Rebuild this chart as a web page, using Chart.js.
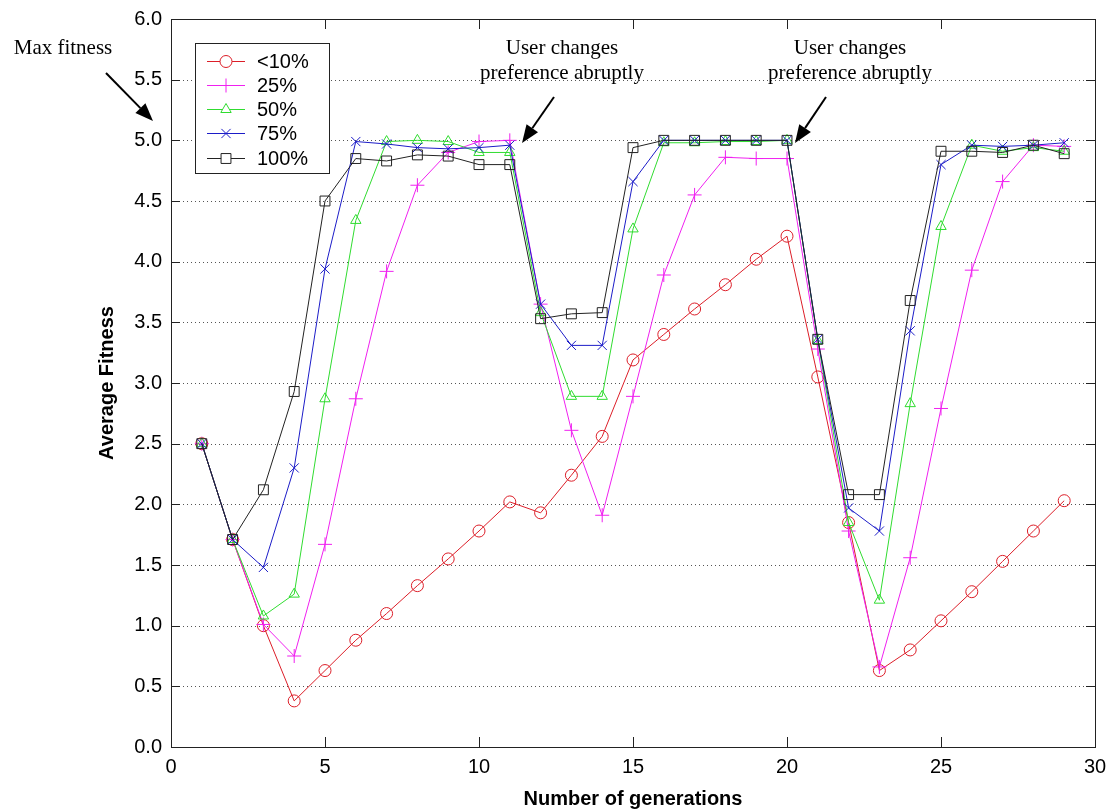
<!DOCTYPE html>
<html>
<head>
<meta charset="utf-8">
<script src="https://cdn.jsdelivr.net/npm/chart.js@4/dist/chart.umd.min.js"></script>
<style>
    body { margin: 0; background: #fff; }
    #wrap { width: 1109px; height: 811px; }
</style>
</head>
<body>
<div id="wrap"><canvas id="fitChart" width="1109" height="811"></canvas></div>
<script>
// generations 1..29
const generations = [1, 2, 3, 4, 5, 6, 7, 8, 9, 10, 11, 12, 13, 14, 15, 16, 17, 18, 19, 20, 21, 22, 23, 24, 25, 26, 27, 28, 29];

const fit10 = [2.50, 1.71, 1.00, 0.38, 0.63, 0.88, 1.10, 1.33, 1.55, 1.78, 2.02, 1.93, 2.24, 2.56, 3.19, 3.40, 3.61, 3.81, 4.02, 4.21, 3.05, 1.85, 0.63, 0.80, 1.04, 1.28, 1.53, 1.78, 2.03];
const fit25 = [2.50, 1.71, 1.01, 0.75, 1.67, 2.87, 3.92, 4.63, 4.90, 4.99, 5.00, 3.65, 2.61, 1.91, 2.89, 3.89, 4.55, 4.86, 4.85, 4.85, 3.28, 1.78, 0.66, 1.56, 2.79, 3.93, 4.66, 4.96, 4.95];
const fit50 = [2.50, 1.71, 1.08, 1.26, 2.87, 4.34, 4.99, 5.00, 4.99, 4.90, 4.90, 3.58, 2.89, 2.89, 4.27, 4.98, 4.98, 4.99, 4.99, 5.00, 3.35, 1.85, 1.21, 2.83, 4.29, 4.96, 4.91, 4.94, 4.91];
const fit75 = [2.50, 1.71, 1.48, 2.30, 3.94, 4.99, 4.97, 4.94, 4.93, 4.94, 4.96, 3.65, 3.31, 3.31, 4.66, 5.00, 5.00, 5.00, 5.00, 5.00, 3.36, 1.97, 1.78, 3.43, 4.80, 4.96, 4.95, 4.96, 4.98];
const fit100 = [2.50, 1.71, 2.12, 2.93, 4.50, 4.85, 4.83, 4.88, 4.87, 4.80, 4.80, 3.53, 3.57, 3.58, 4.94, 5.00, 5.00, 5.00, 5.00, 5.00, 3.36, 2.08, 2.08, 3.68, 4.91, 4.91, 4.90, 4.96, 4.89];

const seriesNames = ['<10%', '25%', '50%', '75%', '100%'];
const xTicks = [0, 5, 10, 15, 20, 25, 30];
const yTicks = [0.0, 0.5, 1.0, 1.5, 2.0, 2.5, 3.0, 3.5, 4.0, 4.5, 5.0, 5.5, 6.0];

const colors = ['#dc1e28', '#f020f0', '#30dc30', '#1c1cc8', '#222222'];
const markers = ['circle', 'cross', 'triangle', 'crossRot', 'rect'];
const markerSize = [6, 7, 6, 6.5, 7];

const toPoints = (arr) => arr.map((v, i) => ({x: generations[i], y: v}));

const allSeries = [fit10, fit25, fit50, fit75, fit100];
const datasets = allSeries.map((arr, i) => ({
    label: seriesNames[i],
    data: toPoints(arr),
    borderColor: colors[i],
    backgroundColor: 'rgba(0,0,0,0)',
    borderWidth: 1,
    pointStyle: markers[i],
    pointRadius: markerSize[i],
    pointBorderColor: colors[i],
    pointBackgroundColor: 'rgba(0,0,0,0)',
    pointBorderWidth: 1,
    tension: 0,
    order: 5 - i
}));

// box, dotted grid and inward ticks, matlab style
const frame = {
    id: 'frame',
    beforeDatasetsDraw(chart) {
        const {ctx, chartArea: a, scales: {x, y}} = chart;
        ctx.save();
        ctx.lineWidth = 1;
        ctx.strokeStyle = '#555';
        ctx.setLineDash([1, 3]);
        yTicks.forEach((t) => {
            if (t === 0 || t === 6) return;
            const py = Math.round(y.getPixelForValue(t)) + 0.5;
            ctx.beginPath();
            ctx.moveTo(a.left, py);
            ctx.lineTo(a.right, py);
            ctx.stroke();
        });
        ctx.setLineDash([]);
        ctx.strokeStyle = '#222';
        yTicks.forEach((t) => {
            const py = Math.round(y.getPixelForValue(t)) + 0.5;
            ctx.beginPath();
            ctx.moveTo(a.left, py); ctx.lineTo(a.left + 9, py);
            ctx.moveTo(a.right, py); ctx.lineTo(a.right - 9, py);
            ctx.stroke();
        });
        xTicks.forEach((t) => {
            const px = Math.round(x.getPixelForValue(t)) + 0.5;
            ctx.beginPath();
            ctx.moveTo(px, a.bottom); ctx.lineTo(px, a.bottom - 10);
            ctx.moveTo(px, a.top); ctx.lineTo(px, a.top + 10);
            ctx.stroke();
        });
        ctx.strokeRect(Math.round(a.left) + 0.5, Math.round(a.top) + 0.5, Math.round(a.right - a.left), Math.round(a.bottom - a.top));
        ctx.restore();
    }
};

function arrow(ctx, x1, y1, x2, y2) {
    const ang = Math.atan2(y2 - y1, x2 - x1);
    const hl = 18, hw = 7;
    const bx = x2 - hl * Math.cos(ang), by = y2 - hl * Math.sin(ang);
    ctx.beginPath();
    ctx.moveTo(x1, y1);
    ctx.lineTo(bx, by);
    ctx.stroke();
    ctx.beginPath();
    ctx.moveTo(x2, y2);
    ctx.lineTo(bx + hw * Math.sin(ang), by - hw * Math.cos(ang));
    ctx.lineTo(bx - hw * Math.sin(ang), by + hw * Math.cos(ang));
    ctx.closePath();
    ctx.fill();
}

// legend box and text notes
const notes = {
    id: 'notes',
    afterDraw(chart) {
        const ctx = chart.ctx;
        ctx.save();
        // legend
        ctx.fillStyle = '#fff';
        ctx.fillRect(195, 43, 134, 130);
        ctx.strokeStyle = '#222';
        ctx.lineWidth = 1;
        ctx.strokeRect(195.5, 43.5, 134, 130);
        const rows = [61, 85, 109, 133, 158];
        seriesNames.forEach((name, i) => {
            ctx.strokeStyle = colors[i];
            ctx.beginPath();
            ctx.moveTo(207, rows[i] + 0.5);
            ctx.lineTo(245, rows[i] + 0.5);
            ctx.stroke();
            ctx.fillStyle = '#fff';
            Chart.helpers.drawPoint(ctx, {pointStyle: markers[i], radius: markerSize[i], borderWidth: 1, rotation: 0}, 226, rows[i] + 0.5);
            ctx.fillStyle = '#000';
            ctx.font = '20px "Liberation Sans", Arial, sans-serif';
            ctx.textAlign = 'left';
            ctx.textBaseline = 'middle';
            ctx.fillText(name, 257, rows[i] + 1);
        });

        ctx.fillStyle = '#000';
        ctx.strokeStyle = '#000';
        ctx.lineWidth = 2;
        ctx.font = '21px "Liberation Serif", "Times New Roman", serif';
        ctx.textAlign = 'center';
        ctx.textBaseline = 'middle';
        ctx.fillText('Max fitness', 63, 48);
        arrow(ctx, 106, 73, 153, 121);

        ctx.fillText('User changes', 562, 48);
        ctx.fillText('preference abruptly', 562, 73);
        arrow(ctx, 554, 97, 522, 143);

        ctx.fillText('User changes', 850, 48);
        ctx.fillText('preference abruptly', 850, 73);
        arrow(ctx, 826, 97, 795, 143);
        ctx.restore();
    }
};

const ctx = document.getElementById('fitChart').getContext('2d');

const myChart = new Chart(ctx, {
    type: 'line',
    data: {datasets: datasets},
    options: {
        responsive: false,
        devicePixelRatio: 1,
        animation: false,
        layout: {padding: {left: 85, right: 14, top: 19, bottom: 0}},
        plugins: {
            legend: {display: false},
            tooltip: {enabled: false}
        },
        scales: {
            x: {
                type: 'linear',
                min: 0,
                max: 30,
                afterFit: (s) => { s.height = 64; },
                afterBuildTicks: (s) => { s.ticks = xTicks.map((v) => ({value: v})); },
                grid: {display: false},
                border: {display: false},
                ticks: {
                    color: '#000',
                    padding: 0,
                    maxRotation: 0,
                    font: {family: '"Liberation Sans", Arial, sans-serif', size: 20}
                },
                title: {
                    display: true,
                    text: 'Number of generations',
                    color: '#000',
                    padding: {top: 0, bottom: 0},
                    font: {family: '"Liberation Sans", Arial, sans-serif', size: 20, weight: 'bold'}
                }
            },
            y: {
                type: 'linear',
                min: 0,
                max: 6,
                afterFit: (s) => { s.width = 86; },
                afterBuildTicks: (s) => { s.ticks = yTicks.map((v) => ({value: v})); },
                grid: {display: false},
                border: {display: false},
                ticks: {
                    color: '#000',
                    padding: 1,
                    callback: (v) => v.toFixed(1),
                    font: {family: '"Liberation Sans", Arial, sans-serif', size: 20}
                },
                title: {
                    display: true,
                    text: 'Average Fitness',
                    color: '#000',
                    padding: {top: 10, bottom: 10},
                    font: {family: '"Liberation Sans", Arial, sans-serif', size: 20, weight: 'bold'}
                }
            }
        }
    },
    plugins: [frame, notes]
});
</script>
</body>
</html>
